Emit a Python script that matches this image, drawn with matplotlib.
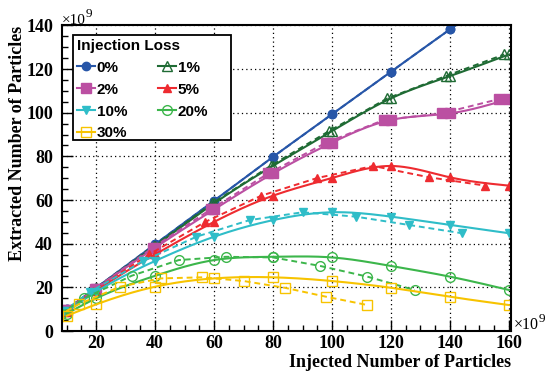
import numpy as np
import matplotlib
matplotlib.use("Agg")
import matplotlib.pyplot as plt
from matplotlib.ticker import MultipleLocator
from matplotlib.patches import Rectangle
from matplotlib.font_manager import FontProperties

# injected particles (x 1e9) where the solid curves have points
injected = np.array([10, 20, 40, 60, 80, 100, 120, 140, 160])
losses = [0, 1, 2, 5, 10, 20, 30]   # injection loss in %

# extracted particles (x 1e9)
ext_0 = [9.9, 19.8, 39.8, 59.7, 79.8, 99.3, 118.8, 138.2, 157.5]
ext_1 = [9.7, 19.5, 39.0, 58.5, 75.7, 91.6, 106.6, 116.8, 126.7]
ext_2 = [9.5, 19.4, 38.2, 55.7, 72.2, 86.3, 96.7, 99.7, 106.3]
ext_5 = [8.8, 18.5, 35.1, 50.0, 62.0, 70.1, 75.6, 70.4, 66.6]
ext_10 = [9.0, 18.0, 32.1, 43.2, 50.8, 54.4, 52.4, 48.6, 44.8]
ext_20 = [8.0, 15.0, 25.3, 32.5, 34.0, 33.7, 29.8, 24.9, 18.8]
ext_30 = [7.0, 12.2, 20.3, 24.1, 24.6, 22.9, 19.8, 15.7, 11.9]

series = [ext_0, ext_1, ext_2, ext_5, ext_10, ext_20, ext_30]
labels = ["0%", "1%", "2%", "5%", "10%", "20%", "30%"]
colors = ["#2756a8", "#1f6b34", "#bb4fa2", "#ee2b30", "#2fbdc8", "#3cb64b", "#f7c300"]
markers = ["o", "^", "s", "^", "v", "o", "s"]
filled = [True, False, True, True, True, False, False]
msizes = [6, 7, 7, 6, 6, 7, 7]


def smooth(x, y, n=300):
    # natural cubic spline, only used to draw the smooth solid curves
    x = np.asarray(x, float)
    y = np.asarray(y, float)
    h = np.diff(x)
    m = len(x)
    A = np.zeros((m, m))
    b = np.zeros(m)
    A[0, 0] = A[-1, -1] = 1
    for i in range(1, m - 1):
        A[i, i - 1] = h[i - 1]
        A[i, i] = 2 * (h[i - 1] + h[i])
        A[i, i + 1] = h[i]
        b[i] = 6 * ((y[i + 1] - y[i]) / h[i] - (y[i] - y[i - 1]) / h[i - 1])
    M = np.linalg.solve(A, b)
    xs = np.linspace(x[0], x[-1], n)
    k = np.clip(np.searchsorted(x, xs) - 1, 0, m - 2)
    t0 = xs - x[k]
    t1 = x[k + 1] - xs
    hk = h[k]
    ys = (M[k] * t1**3 / (6 * hk) + M[k + 1] * t0**3 / (6 * hk)
          + (y[k] / hk - M[k] * hk / 6) * t1 + (y[k + 1] / hk - M[k + 1] * hk / 6) * t0)
    return xs, ys


fig = plt.figure(figsize=(5.46, 3.71), dpi=100)
ax = fig.add_axes([0.1136, 0.1078, 0.8217, 0.8237])

handles = []
for ext, lab, c, mk, fl, ms, loss in zip(series, labels, colors, markers, filled, msizes, losses):
    mfc = c if fl else "none"
    # dashed: same values against the particles really injected
    x_eff = injected * (1 - loss / 100.0)
    ax.plot(x_eff, ext, ls=(0, (3, 2)), color=c, lw=1.4, marker=mk, ms=ms,
            mfc=mfc, mec=c, mew=1.0)
    xs, ys = smooth(injected, ext)
    ax.plot(xs, ys, "-", color=c, lw=1.5)
    ax.plot(injected, ext, ls="none", color=c, marker=mk, ms=ms, mfc=mfc, mec=c, mew=1.0)
    h, = ax.plot([], [], "-", color=c, lw=1.5, marker=mk, ms=ms, mfc=mfc, mec=c, mew=1.0)
    handles.append(h)

ax.set_xlim(8.4, 160.6)
ax.set_ylim(0, 140)
ax.xaxis.set_major_locator(MultipleLocator(20))
ax.xaxis.set_minor_locator(MultipleLocator(5))
ax.yaxis.set_major_locator(MultipleLocator(20))
ax.yaxis.set_minor_locator(MultipleLocator(5))
ax.grid(True, which="major", color="black", ls=(0, (1, 2.5)), lw=0.9)
ax.tick_params(which="both", direction="in", top=False, right=False, width=1.0)
ax.tick_params(which="major", length=8)
ax.tick_params(which="minor", length=4)
ax.tick_params(axis="y", pad=6.5)
ax.tick_params(axis="x", pad=3)
for sp in ax.spines.values():
    sp.set_linewidth(1.5)

serif = {"family": "Liberation Serif", "weight": "bold", "size": 13}
for t in ax.get_xticklabels() + ax.get_yticklabels():
    t.set_fontproperties(FontProperties(**serif))

ax.set_ylabel("Extracted Number of Particles", fontdict=serif, loc="top")
ax.yaxis.set_label_coords(-0.080, 1.0)
ax.set_xlabel("Injected Number of Particles", fontdict=serif, loc="right", labelpad=1)

# x10^9 multipliers
fig.text(62 / 546, 1 - 24 / 371, "\u00d710", family="Liberation Serif", size=11, va="baseline")
fig.text(86 / 546, 1 - 17 / 371, "9", family="Liberation Serif", size=9.5, va="baseline")
fig.text(514 / 546, 1 - 329 / 371, "\u00d710", family="Liberation Serif", size=11.5, va="baseline")
fig.text(539 / 546, 1 - 322 / 371, "9", family="Liberation Serif", size=9.5, va="baseline")

# legend box (drawn by hand so it can be wider than its entries, as in the original)
ax.add_patch(Rectangle((0.0245, 0.625), 0.352, 0.3436, transform=ax.transAxes,
                       facecolor="white", edgecolor="black", lw=1.3, zorder=4.5))
order = [0, 2, 4, 6, 1, 3, 5]
sans = {"family": "Liberation Sans", "weight": "bold", "size": 11}
leg = ax.legend([handles[i] for i in order], [labels[i] for i in order], ncol=2,
                loc="upper left", bbox_to_anchor=(0.0245, 0.969), title="Injection Loss",
                prop=sans, title_fontproperties=sans, alignment="left",
                frameon=False, handlelength=1.2, handletextpad=0.1, columnspacing=2.0,
                labelspacing=0.52, borderpad=0.25, borderaxespad=0)
leg.set_zorder(5)

fig.savefig("out.png", dpi=100)
